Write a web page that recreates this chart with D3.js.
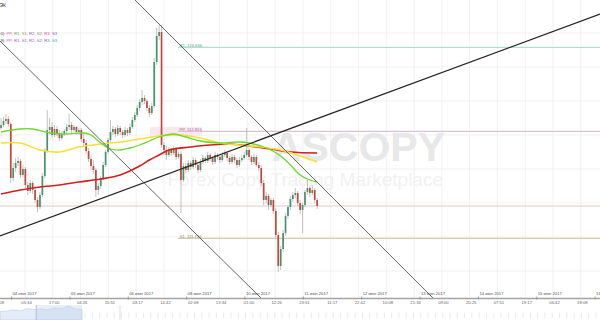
<!DOCTYPE html>
<html><head><meta charset="utf-8">
<script src="https://cdn.jsdelivr.net/npm/d3@7"></script>
<style>html,body{margin:0;padding:0;background:#fff;overflow:hidden}svg{display:block}text{font-family:"Liberation Sans",Arial,sans-serif}</style>
</head><body><svg id="c" width="600" height="320"></svg>
<script>
// ---------------- DATA ----------------
// hourly candles; hour 0 = 00:00 of the first date label
const firstCandleHour = -4.3;
const opens = [112.85,112.88,112.92,112.94,112.89,112.35,112.45,112.50,112.52,112.38,
112.44,112.28,112.22,112.30,112.23,112.13,112.06,112.18,112.37,112.62,
112.83,112.86,112.78,112.84,112.80,112.75,112.79,112.82,112.86,112.88,
112.83,112.86,112.81,112.83,112.74,112.70,112.62,112.54,112.47,112.43,
112.23,112.27,112.35,112.48,112.61,112.73,112.81,112.84,112.79,112.85,
112.81,112.78,112.83,112.80,112.86,112.93,112.98,113.05,113.11,113.15,
113.12,113.05,113.00,113.07,113.51,113.77,113.81,112.68,112.63,112.58,
112.63,112.60,112.64,112.56,112.59,112.33,112.47,112.43,112.50,112.46,
112.53,112.48,112.43,112.51,112.55,112.52,112.58,112.55,112.51,112.58,
112.56,112.53,112.58,112.60,112.55,112.51,112.56,112.53,112.48,112.53,
112.55,112.58,112.63,112.56,112.51,112.56,112.48,112.45,112.30,112.13,
112.17,112.08,112.13,112.02,111.78,111.47,111.64,111.80,111.97,112.06,
112.14,112.18,112.20,112.10,112.03,112.08,112.21,112.25,112.20,112.23,
112.13];
const highs = [112.95,112.96,112.99,112.97,112.91,112.50,112.55,112.56,112.54,112.48,
112.46,112.31,112.33,112.32,112.27,112.16,112.21,112.40,112.65,113.03,
112.95,112.91,112.88,112.87,112.83,112.82,112.84,112.89,112.99,112.91,
112.88,112.87,112.85,112.85,112.79,112.73,112.65,112.58,112.53,112.45,
112.30,112.37,112.51,112.63,112.75,112.93,112.87,112.86,112.88,112.87,
112.83,112.86,112.85,112.89,112.96,113.01,113.08,113.14,113.23,113.18,
113.14,113.08,113.10,113.55,113.85,113.88,113.88,112.71,112.67,112.66,
112.65,112.67,112.66,112.61,112.62,112.50,112.50,112.53,112.52,112.56,
112.55,112.50,112.54,112.58,112.57,112.61,112.60,112.57,112.61,112.60,
112.58,112.61,112.63,112.62,112.57,112.59,112.58,112.55,112.56,112.58,
112.61,112.85,112.65,112.58,112.59,112.58,112.51,112.48,112.33,112.21,
112.19,112.15,112.15,112.05,111.81,111.67,111.83,112.00,112.08,112.17,
112.21,112.25,112.22,112.13,112.10,112.23,112.33,112.27,112.28,112.25,
112.15];
const lows = [112.83,112.86,112.89,112.86,112.30,112.32,112.41,112.47,112.35,112.36,
112.25,112.18,112.20,112.19,112.10,112.01,112.04,112.16,112.35,112.60,
112.80,112.75,112.76,112.77,112.72,112.73,112.77,112.80,112.83,112.80,
112.81,112.78,112.78,112.71,112.67,112.59,112.51,112.43,112.39,112.16,
112.18,112.24,112.33,112.46,112.59,112.71,112.78,112.76,112.77,112.78,
112.75,112.76,112.77,112.78,112.84,112.91,112.96,113.02,113.08,113.09,
113.02,112.96,112.98,113.05,113.48,113.73,112.65,112.58,112.53,112.56,
112.57,112.58,112.53,112.54,112.00,112.31,112.40,112.41,112.43,112.44,
112.45,112.40,112.41,112.49,112.50,112.50,112.52,112.48,112.49,112.53,
112.50,112.51,112.56,112.52,112.48,112.49,112.50,112.45,112.46,112.51,
112.53,112.56,112.53,112.48,112.49,112.46,112.42,112.27,112.08,112.10,
112.03,112.06,111.99,111.75,111.41,111.43,111.61,111.77,111.94,112.03,
112.11,112.15,112.07,111.99,111.80,112.06,112.18,112.16,112.18,112.10,
112.04];
const closes = [112.88,112.92,112.94,112.89,112.35,112.45,112.50,112.52,112.38,112.44,
112.28,112.22,112.30,112.23,112.13,112.06,112.18,112.37,112.62,112.83,
112.86,112.78,112.84,112.80,112.75,112.79,112.82,112.86,112.88,112.83,
112.86,112.81,112.83,112.74,112.70,112.62,112.54,112.47,112.43,112.23,
112.27,112.35,112.48,112.61,112.73,112.81,112.84,112.79,112.85,112.81,
112.78,112.83,112.80,112.86,112.93,112.98,113.05,113.11,113.15,113.12,
113.05,113.00,113.07,113.51,113.77,113.81,112.68,112.63,112.58,112.63,
112.60,112.64,112.56,112.59,112.33,112.47,112.43,112.50,112.46,112.53,
112.48,112.43,112.51,112.55,112.52,112.58,112.55,112.51,112.58,112.56,
112.53,112.58,112.60,112.55,112.51,112.56,112.53,112.48,112.53,112.55,
112.58,112.63,112.56,112.51,112.56,112.48,112.45,112.30,112.13,112.17,
112.08,112.13,112.02,111.78,111.47,111.64,111.80,111.97,112.06,112.14,
112.18,112.20,112.10,112.03,112.08,112.21,112.25,112.20,112.23,112.13,
112.07];

// moving averages read at candle indices
const maGreenIdx = [0,8,13,20,27,34,37,41,45,49,53,57,61,65,71,76,82,90,98,102,107,111,115,119,123,127,130];
const maGreenVal = [112.81,112.84,112.84,112.80,112.79,112.80,112.78,112.70,112.64,112.63,112.65,112.68,112.72,112.76,112.79,112.76,112.72,112.70,112.71,112.70,112.67,112.63,112.57,112.48,112.38,112.33,112.31];
const maYellowIdx = [0,8,16,24,32,41,49,57,65,74,82,90,98,107,115,123,130];
const maYellowVal = [112.70,112.70,112.63,112.61,112.66,112.69,112.71,112.74,112.77,112.78,112.75,112.70,112.68,112.66,112.63,112.57,112.51];
const maRedIdx = [0,8,16,24,32,41,49,57,61,65,69,78,86,94,102,111,119,130];
const maRedVal = [112.19,112.23,112.26,112.28,112.31,112.34,112.38,112.47,112.53,112.58,112.63,112.66,112.68,112.69,112.67,112.64,112.61,112.60];

// pivot levels of the current day
const pivotNames = ["R1","PP","S1"];
const pivotValues = [113.656,112.816,111.746];
const pivotStartHour = 68.5;

// trend lines: [hour, price] pairs
const trendA = [[-4.73,113.72],[102.6,111.15]];
const trendB = [[50.79,114.13],[173.33,111.15]];
const trendC = [[-4.73,111.77],[242.0,113.99]];

// grid price levels
const gridPrices = [113.80,113.46,113.12,112.78,112.44,112.10,111.76,111.42];

// axis labels
const dateLabels = ["04 июн 2017","05 июн 2017","06 июн 2017","08 июн 2017","10 июн 2017","11 июн 2017","12 июн 2017","13 июн 2017","14 июн 2017","15 июн 2017","16 июн 2017"];
const timeLabels = ["18:08","05:34","17:00","04:26","15:51","03:17","14:42","02:08","13:34","01:00","12:26","23:51","11:17","22:42","10:08","21:34","09:00","20:25","07:51","19:17","06:42","18:08"];
const timeTickStart = -5.86, timeTickStep = 11.4283;

// legend
const legendRows = [
  {head:"0): ", items:[["PP,","#d65cbc"],["R1,","#4fae6e"],["S1,","#aa9c3c"],["R2,","#9460c4"],["S2,","#a08a4c"],["R3,","#cc4fae"],["S3","#8456cc"]]},
  {head:"9): ", items:[["PP,","#d65cbc"],["R1,","#a060c4"],["S1,","#8a70c0"],["R2,","#9a5cc0"],["S2,","#9070b8"],["R3,","#9a5cc0"],["S3","#3fa0b0"]]}
];

// navigator strip (relative heights)
const navValues = [0.55,0.6,0.68,0.62,0.75,0.7,0.74,0.68,0.8,0.76,0.92,0.74,0.7];
const navWindowIdx = [5.3, 12];

// ---------------- DRAW ----------------
const svg = d3.select("#c");
const x = d3.scaleLinear().domain([0, 24]).range([11.5, 11.5 + 58.36]);
const y = d3.scaleLinear().domain([114.13, 111.13]).range([0, 300]);
const plotBottom = y(111.15);

svg.append("rect").attr("width",600).attr("height",320).attr("fill","#fff");
svg.append("clipPath").attr("id","plot").append("rect").attr("x",0).attr("y",0).attr("width",600).attr("height",plotBottom);

const timeHours = timeLabels.map((t,j)=>timeTickStart + j*timeTickStep);

// grid
const grid = svg.append("g").attr("stroke","#eeeeee").attr("stroke-width",0.8);
timeHours.forEach(h=>grid.append("line").attr("x1",x(h)).attr("x2",x(h)).attr("y1",0).attr("y2",plotBottom));
gridPrices.forEach(p=>grid.append("line").attr("x1",0).attr("x2",600).attr("y1",y(p)).attr("y2",y(p)));

// watermark
svg.append("text").attr("x",445).attr("y",161).attr("text-anchor","end")
  .attr("font-size",41).attr("font-weight","bold").attr("fill","#e8e8e8").text("ASCOPY");
svg.append("text").attr("x",443).attr("y",186).attr("text-anchor","end")
  .attr("font-size",19).attr("fill","#f1f1f1").text("Forex Copy Trading Marketplace");

// pivot lines
const pivotLine = {R1:"#b8ddd0",PP:"#dcc2d6",S1:"#d2cdb0"};
const pivotText = {R1:"#45b08f",PP:"#c06aa8",S1:"#8c8c58"};
const piv = svg.append("g").attr("clip-path","url(#plot)");
pivotNames.forEach((n,k)=>{
  const yy = y(pivotValues[k]);
  if(n==="PP") piv.append("rect").attr("x",x(pivotStartHour)-28).attr("y",yy-4.5).attr("width",52).attr("height",9).attr("fill","#f7e9ef");
  piv.append("line").attr("x1",x(pivotStartHour)).attr("x2",600).attr("y1",yy).attr("y2",yy)
    .attr("stroke",pivotLine[n]).attr("stroke-width",1.3);
  piv.append("text").attr("x",x(pivotStartHour)+1.5).attr("y",yy-0.4).attr("font-size",4.2)
    .attr("fill",pivotText[n]).text(n+", "+d3.format(".3f")(pivotValues[k]));
});

// current price line
const last = closes[closes.length-1];
svg.append("line").attr("x1",0).attr("x2",600).attr("y1",y(last)).attr("y2",y(last))
  .attr("stroke","#dccdcb").attr("stroke-width",1.2);

// candles
const cg = svg.append("g").attr("clip-path","url(#plot)");
closes.forEach((c,i)=>{
  const h = firstCandleHour + i, cx = x(h);
  cg.append("line").attr("x1",cx).attr("x2",cx).attr("y1",y(highs[i])).attr("y2",y(lows[i]))
    .attr("stroke","#a9a9a9").attr("stroke-width",0.7);
  const up = c >= opens[i];
  const top = y(Math.max(c,opens[i])), bot = y(Math.min(c,opens[i]));
  cg.append("rect").attr("x",cx-0.85).attr("width",1.7).attr("y",top).attr("height",Math.max(0.8,bot-top))
    .attr("fill", up ? "#47936a" : "#c4473c");
});

// moving averages
const maLine = d3.line().x(d=>x(firstCandleHour+d[0])).y(d=>y(d[1])).curve(d3.curveCatmullRom.alpha(0.5));
const mg = svg.append("g").attr("fill","none").attr("clip-path","url(#plot)");
mg.append("path").attr("d",maLine(maRedIdx.map((k,j)=>[k,maRedVal[j]]))).attr("stroke","#d21e1e").attr("stroke-width",1.6);
mg.append("path").attr("d",maLine(maYellowIdx.map((k,j)=>[k,maYellowVal[j]]))).attr("stroke","#f3e23a").attr("stroke-width",1.6);
mg.append("path").attr("d",maLine(maGreenIdx.map((k,j)=>[k,maGreenVal[j]]))).attr("stroke","#6cd72c").attr("stroke-width",1.3);

// trend lines
const tl = svg.append("g").attr("clip-path","url(#plot)");
[[trendA,"#555",0.9],[trendB,"#555",0.9],[trendC,"#262626",1.2]].forEach(([t,col,w])=>{
  tl.append("line").attr("x1",x(t[0][0])).attr("y1",y(t[0][1])).attr("x2",x(t[1][0])).attr("y2",y(t[1][1]))
    .attr("stroke",col).attr("stroke-width",w);
});

// x axis
svg.append("line").attr("x1",0).attr("x2",600).attr("y1",plotBottom+0.5).attr("y2",plotBottom+0.5)
  .attr("stroke","#a4a4a4").attr("stroke-width",1.6);
dateLabels.forEach((d,k)=>{
  const xx = x(24*k);
  svg.append("line").attr("x1",xx).attr("x2",xx).attr("y1",plotBottom-1.5).attr("y2",plotBottom+1.5).attr("stroke","#888").attr("stroke-width",0.8);
  svg.append("text").attr("x",xx+1).attr("y",295.4).attr("font-size",4.2).attr("fill","#555").text(d);
});
timeLabels.forEach((t,j)=>{
  svg.append("text").attr("x",x(timeHours[j])+1.5).attr("y",304.3).attr("text-anchor","middle")
    .attr("font-size",4.2).attr("fill","#666").text(t);
});

// navigator
const nx = d3.scaleLinear().domain([0, navValues.length-1]).range([0, 82]);
const ny = d3.scaleLinear().domain([0,1]).range([320, 305]);
svg.append("path").attr("d", d3.area().x((d,i)=>nx(i)).y0(320).y1(d=>ny(d)).curve(d3.curveMonotoneX)(navValues))
  .attr("fill","#e3ecf8").attr("stroke","#b6cbe9").attr("stroke-width",0.6);
svg.append("rect").attr("x",nx(navWindowIdx[0])).attr("y",305).attr("width",nx(navWindowIdx[1])-nx(navWindowIdx[0])).attr("height",15)
  .attr("fill","#bcd2ef").attr("opacity",0.35);
svg.append("line").attr("x1",nx(navWindowIdx[0])).attr("x2",nx(navWindowIdx[0])).attr("y1",305).attr("y2",320).attr("stroke","#9db4d6").attr("stroke-width",0.8);
d3.range(nx(navWindowIdx[1])+3, 600, 7.3).forEach(v=>{
  svg.append("line").attr("x1",v).attr("x2",v).attr("y1",312.5).attr("y2",318.5).attr("stroke","#e2e2e2").attr("stroke-width",0.7);
});
svg.append("line").attr("x1",120).attr("x2",120).attr("y1",305).attr("y2",320).attr("stroke","#d4d4d4").attr("stroke-width",0.8);

// top-left title fragment and legend
svg.append("text").attr("x",-0.5).attr("y",7).attr("font-size",5).attr("fill","#333").text("ЭК");
legendRows.forEach((r,k)=>{
  const t = svg.append("text").attr("x",0.5).attr("y",35 + k*6.6).attr("font-size",4.2);
  t.append("tspan").attr("fill","#444").text(r.head);
  r.items.forEach(([s,col],j)=>t.append("tspan").attr("fill",col).text(s + (j<r.items.length-1?" ":"")));
});
</script></body></html>
